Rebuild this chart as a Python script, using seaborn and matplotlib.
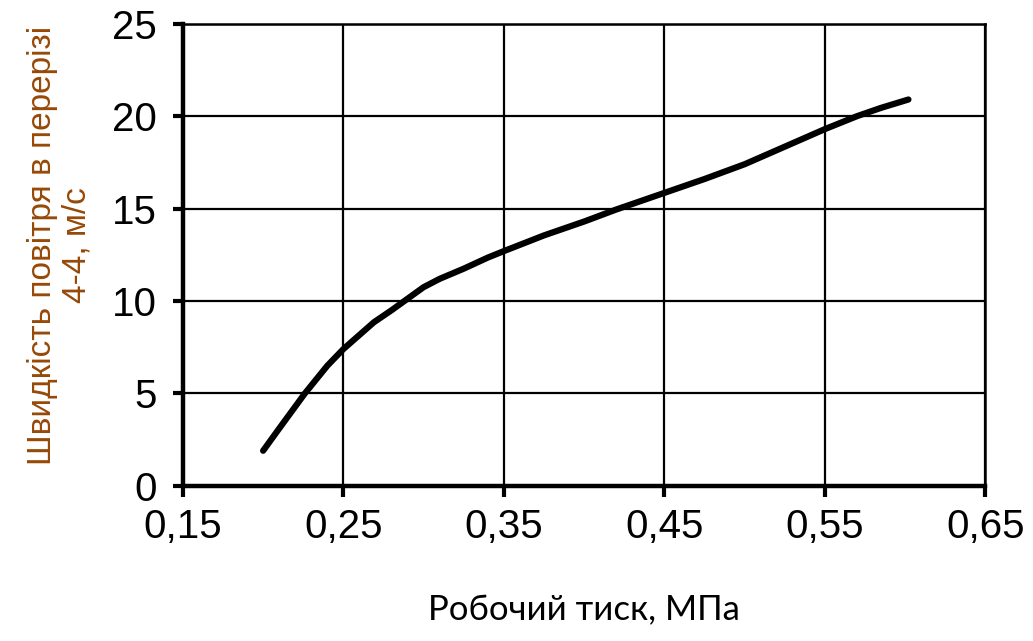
import matplotlib
matplotlib.use("Agg")
import matplotlib.pyplot as plt
import seaborn as sns
import pandas as pd

# Data
pressure = [0.200, 0.210, 0.226, 0.240, 0.250, 0.269, 0.280, 0.288, 0.300,
            0.310, 0.325, 0.340, 0.350, 0.375, 0.400, 0.420, 0.450, 0.475,
            0.500, 0.525, 0.550, 0.570, 0.585, 0.602]
velocity = [1.9, 3.1, 5.0, 6.5, 7.4, 8.85, 9.5, 10.0, 10.75,
            11.2, 11.75, 12.35, 12.7, 13.55, 14.3, 14.95, 15.85, 16.6,
            17.4, 18.35, 19.3, 20.0, 20.45, 20.9]

x_ticks = [0.15, 0.25, 0.35, 0.45, 0.55, 0.65]
x_tick_labels = ["0,15", "0,25", "0,35", "0,45", "0,55", "0,65"]
y_ticks = [0, 5, 10, 15, 20, 25]
y_tick_labels = ["0", "5", "10", "15", "20", "25"]

x_label = "Робочий тиск, МПа"
y_label = "Швидкість повітря в перерізі\n4-4, м/с"

df = pd.DataFrame({"p": pressure, "v": velocity})

sns.set_style("white")
plt.rcParams["font.family"] = ["Liberation Sans", "DejaVu Sans"]

fig = plt.figure(figsize=(10.33, 6.41), dpi=100)
ax = fig.add_axes([0.177, 0.242, 0.777, 0.721])

sns.lineplot(data=df, x="p", y="v", ax=ax, color="black", linewidth=4.5,
             solid_capstyle="round", solid_joinstyle="round", sort=False)

ax.set_xlim(0.15, 0.65)
ax.set_ylim(0, 25)
ax.set_xticks(x_ticks)
ax.set_xticklabels(x_tick_labels)
ax.set_yticks(y_ticks)
ax.set_yticklabels(y_tick_labels)

ax.grid(True, color="black", linewidth=1.6)
ax.set_axisbelow(True)

for side in ["top", "right"]:
    ax.spines[side].set_visible(True)
    ax.spines[side].set_linewidth(1.8)
    ax.spines[side].set_color("black")
for side in ["left", "bottom"]:
    ax.spines[side].set_visible(True)
    ax.spines[side].set_linewidth(3.2)
    ax.spines[side].set_color("black")

ax.tick_params(axis="x", direction="out", length=8, width=3, colors="black",
               labelsize=29, pad=8, bottom=True)
ax.tick_params(axis="y", direction="out", length=7, width=3, colors="black",
               labelsize=29, pad=12, left=True)

ax.set_xlabel(x_label, fontsize=25, family=["Lato", "DejaVu Sans"],
              color="black")
ax.xaxis.set_label_coords(0.5, -0.235)
ax.set_ylabel(y_label, fontsize=24, color="#974806", linespacing=1.15)
ax.yaxis.set_label_coords(-0.112, 0.52)

fig.savefig("out.png", dpi=100, facecolor="white")
